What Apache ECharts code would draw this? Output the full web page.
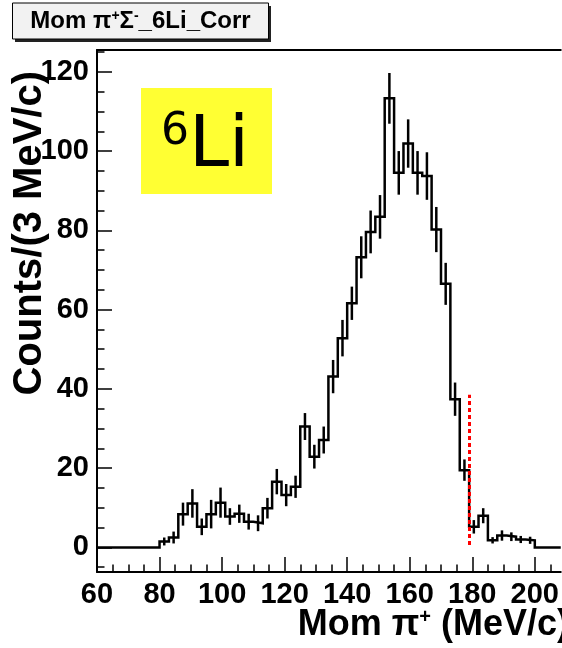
<!DOCTYPE html>
<html>
<head>
<meta charset="utf-8">
<script src="https://cdn.jsdelivr.net/npm/echarts@6/dist/echarts.min.js"></script>
<style>
  html, body { margin: 0; padding: 0; background: #ffffff; }
  #chart { width: 562px; height: 648px; }
</style>
</head>
<body>
<div id="chart"></div>
<script>
// Corrected pi+ momentum spectrum, 3 MeV/c bins (lower bin edges, MeV/c)
const binLow = [80, 83, 86, 89, 92, 95, 98, 101, 104, 107, 110, 113, 116, 119, 122, 125, 128, 131, 134, 137,
                140, 143, 146, 149, 152, 155, 158, 161, 164, 167, 170, 173, 176, 179, 182, 185, 188, 191, 194, 197];
const binWidth = 3;
// bin contents
const counts = [1.5, 2.5, 8.4, 11.1, 5.2, 8.4, 11.3, 7.8, 8.5, 6.5, 6.1, 9.9, 16.6, 13.2, 15.3, 30.5, 22.9, 27.1, 43.1, 52.8,
                61.6, 73.2, 79.6, 83.4, 113.3, 94.5, 101.9, 94.5, 93.7, 80.2, 66.5, 37.4, 19.5, 5.2, 8.0, 1.8, 3.0, 2.7, 2.0, 1.8];
// bin errors
const errors = [1.0, 1.5, 2.9, 3.6, 2.1, 3.6, 3.8, 2.1, 2.3, 2.0, 2.0, 2.6, 3.2, 2.8, 2.8, 3.4, 3.0, 3.4, 4.2, 4.6,
                4.2, 5.3, 5.4, 5.5, 6.4, 5.5, 6.1, 5.5, 6.0, 5.7, 5.3, 4.2, 2.7, 1.7, 1.9, 0.8, 1.3, 1.1, 0.9, 0.9];

// axis ranges and ticks
const xRange = [60, 208.3];
const yRange = [-6.2, 125.5];
const xMajor = [60, 80, 100, 120, 140, 160, 180, 200];
const xMinor = [65, 70, 75, 85, 90, 95, 105, 110, 115, 125, 130, 135, 145, 150, 155, 165, 170, 175, 185, 190, 195, 205];
const yMajor = [0, 20, 40, 60, 80, 100, 120];
const yMinor = [-5, 5, 10, 15, 25, 30, 35, 45, 50, 55, 65, 70, 75, 85, 90, 95, 105, 110, 115, 125];

// momentum cut marker
const cutMomentum = 179;
const cutSpan = [0.6, 38.5];

const FONT = "'Liberation Sans', Arial, Helvetica, sans-serif";

// step outline of the histogram (empty bins drawn at zero)
const firstEdge = binLow[0];
const lastEdge = binLow[binLow.length - 1] + binWidth;
const outline = [[xRange[0], 0], [firstEdge, 0]];
binLow.forEach((lo, i) => {
  outline.push([lo, counts[i]]);
  outline.push([lo + binWidth, counts[i]]);
});
outline.push([lastEdge, 0]);
outline.push([xRange[1], 0]);

const errData = binLow.map((lo, i) => [lo + binWidth / 2, counts[i], errors[i]]);

const axisLineStyle = { color: '#000', width: 2 };
const tickStyle = { color: '#000', width: 1.5 };

const chart = echarts.init(document.getElementById('chart'), null, { renderer: 'canvas' });

chart.setOption({
  animation: false,
  backgroundColor: '#ffffff',
  grid: { left: 97, right: 0, top: 50, bottom: 76 },
  xAxis: [
    {
      type: 'value', min: xRange[0], max: xRange[1], position: 'bottom',
      axisLine: { show: true, onZero: false, lineStyle: axisLineStyle },
      axisTick: { show: true, inside: true, length: 15, customValues: xMajor, lineStyle: tickStyle },
      axisLabel: { customValues: xMajor, fontFamily: FONT, fontWeight: 'bold', fontSize: 29, color: '#000', margin: 8 },
      splitLine: { show: false }
    },
    {
      type: 'value', min: xRange[0], max: xRange[1], position: 'bottom',
      axisLine: { show: false, onZero: false },
      axisTick: { show: true, inside: true, length: 7.5, customValues: xMinor, lineStyle: tickStyle },
      axisLabel: { show: false },
      splitLine: { show: false }
    },
    {
      type: 'value', min: xRange[0], max: xRange[1], position: 'top',
      axisLine: { show: true, onZero: false, lineStyle: axisLineStyle },
      axisTick: { show: false },
      axisLabel: { show: false },
      splitLine: { show: false }
    }
  ],
  yAxis: [
    {
      type: 'value', min: yRange[0], max: yRange[1], position: 'left',
      axisLine: { show: true, onZero: false, lineStyle: axisLineStyle },
      axisTick: { show: true, inside: true, length: 15, customValues: yMajor, lineStyle: tickStyle },
      axisLabel: { customValues: yMajor, fontFamily: FONT, fontWeight: 'bold', fontSize: 29, color: '#000', margin: 8 },
      splitLine: { show: false }
    },
    {
      type: 'value', min: yRange[0], max: yRange[1], position: 'left',
      axisLine: { show: false, onZero: false },
      axisTick: { show: true, inside: true, length: 7.5, customValues: yMinor, lineStyle: tickStyle },
      axisLabel: { show: false },
      splitLine: { show: false }
    }
  ],
  series: [
    {
      type: 'line',
      xAxisIndex: 0, yAxisIndex: 0,
      data: outline,
      showSymbol: false,
      symbol: 'none',
      clip: true,
      lineStyle: { color: '#000', width: 2.5, join: 'miter' },
      z: 3
    },
    {
      type: 'custom',
      xAxisIndex: 0, yAxisIndex: 0,
      data: errData,
      encode: { x: 0, y: 1 },
      clip: true,
      renderItem: function (params, api) {
        const x = api.value(0), v = api.value(1), e = api.value(2);
        const p1 = api.coord([x, v - e]);
        const p2 = api.coord([x, v + e]);
        return {
          type: 'line',
          shape: { x1: p1[0], y1: p1[1], x2: p2[0], y2: p2[1] },
          style: { stroke: '#000', lineWidth: 2.5 }
        };
      },
      markLine: {
        silent: true,
        symbol: 'none',
        label: { show: false },
        lineStyle: { color: '#ff0000', type: [4, 3], width: 3 },
        data: [[{ coord: [cutMomentum, cutSpan[0]] }, { coord: [cutMomentum, cutSpan[1]] }]]
      },
      z: 4
    }
  ],
  graphic: [
    // histogram title box with shadow
    { type: 'rect', shape: { x: 15, y: 6, width: 256, height: 36 }, style: { fill: '#222' }, z: 10 },
    { type: 'rect', shape: { x: 12.5, y: 3, width: 256, height: 36 }, style: { fill: '#f2f2f2', stroke: '#000', lineWidth: 1 }, z: 11 },
    {
      type: 'text', x: 140.5, y: 21.5, z: 12,
      style: {
        text: 'Mom \u03c0{sup|+}\u03a3{sup|-}_6Li_Corr',
        font: "bold 24px " + FONT,
        fill: '#000', align: 'center', verticalAlign: 'middle',
        rich: {
          sup: { fontFamily: FONT, fontWeight: 'bold', fontSize: 14, fill: '#000', verticalAlign: 'top', lineHeight: 14 }
        }
      }
    },
    // target label
    { type: 'rect', shape: { x: 141, y: 88, width: 131, height: 106 }, style: { fill: '#ffff33' }, z: 10 },
    {
      type: 'text', x: 161, y: 147, z: 12,
      style: {
        text: '{s|6}{b|Li}',
        fill: '#000', align: 'left', verticalAlign: 'middle',
        rich: {
          s: { fontFamily: "'DejaVu Sans', sans-serif", fontSize: 44, fill: '#000', verticalAlign: 'top' },
          b: { fontFamily: "'DejaVu Sans', sans-serif", fontSize: 72, fill: '#000' }
        }
      }
    },
    // axis titles
    {
      type: 'text', x: 30, y: 71, rotation: Math.PI / 2, z: 12,
      style: {
        text: 'Counts/(3 MeV/c)',
        font: "bold 40px " + FONT,
        fill: '#000', align: 'right', verticalAlign: 'middle'
      }
    },
    {
      type: 'text', x: 569, y: 625, z: 12,
      style: {
        text: 'Mom \u03c0{sup|+} (MeV/c)',
        font: "bold 36px " + FONT,
        fill: '#000', align: 'right', verticalAlign: 'middle',
        rich: {
          sup: { fontFamily: FONT, fontWeight: 'bold', fontSize: 20, fill: '#000', verticalAlign: 'top', lineHeight: 20 }
        }
      }
    }
  ]
});
</script>
</body>
</html>
